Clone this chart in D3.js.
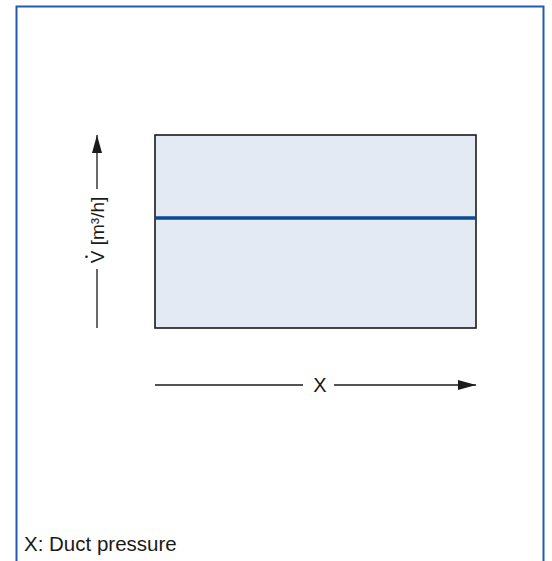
<!DOCTYPE html>
<html>
<head>
<meta charset="utf-8">
<script src="https://cdn.jsdelivr.net/npm/d3@7"></script>
<style>
  body { margin: 0; background: #fff; }
  svg { display: block; font-family: "Liberation Sans", Arial, sans-serif; }
</style>
</head>
<body>
<div id="chart"></div>
<script>
"use strict";

// chart data
const xDomain = [0, 1];          // duct pressure (relative)
const yDomain = [0, 1];          // air flow (relative)
const flowX = [0, 1];
const flowY = [0.57, 0.57];      // constant volume flow
const xLabel = "X";
const yLabel = "V [m³/h]";
const footnote = "X: Duct pressure";

const width = 552, height = 561;
const margin = { top: 135, right: 76, bottom: 233, left: 155 };

const svg = d3.select("#chart")
    .append("svg")
    .attr("width", width)
    .attr("height", height);

// outer frame (no bottom edge)
svg.append("path")
    .attr("d", `M16.5,${height} V6.5 H543.5 V${height}`)
    .attr("fill", "none")
    .attr("stroke", "#1f5bb0")
    .attr("stroke-width", 2);

const x = d3.scaleLinear().domain(xDomain).range([margin.left, width - margin.right]);
const y = d3.scaleLinear().domain(yDomain).range([height - margin.bottom, margin.top]);

const defs = svg.append("defs");
defs.append("marker")
    .attr("id", "arrow")
    .attr("viewBox", "0 0 18 10")
    .attr("refX", 18).attr("refY", 5)
    .attr("markerWidth", 18).attr("markerHeight", 10)
    .attr("markerUnits", "userSpaceOnUse")
    .attr("orient", "auto")
    .append("path")
    .attr("d", "M0,0 L18,5 L0,10 Z")
    .attr("fill", "#1a1a1a");

// plot area
svg.append("rect")
    .attr("x", x(xDomain[0]))
    .attr("y", y(yDomain[1]))
    .attr("width", x(xDomain[1]) - x(xDomain[0]))
    .attr("height", y(yDomain[0]) - y(yDomain[1]))
    .attr("fill", "#e3eaf3")
    .attr("stroke", "#1a1a1a")
    .attr("stroke-width", 1.6);

// flow line
const line = d3.line().x(d => x(d[0])).y(d => y(d[1]));
svg.append("path")
    .datum(d3.zip(flowX, flowY))
    .attr("d", line)
    .attr("fill", "none")
    .attr("stroke", "#0a4a94")
    .attr("stroke-width", 3.5);

// x axis arrow with label
const xa = height - margin.bottom + 57;
const xMid = 320;
svg.append("line")
    .attr("x1", x(0)).attr("x2", xMid - 17)
    .attr("y1", xa).attr("y2", xa)
    .attr("stroke", "#1a1a1a").attr("stroke-width", 1.3);
svg.append("line")
    .attr("x1", xMid + 14).attr("x2", x(1))
    .attr("y1", xa).attr("y2", xa)
    .attr("stroke", "#1a1a1a").attr("stroke-width", 1.3)
    .attr("marker-end", "url(#arrow)");
svg.append("text")
    .attr("x", xMid).attr("y", xa + 7)
    .attr("text-anchor", "middle")
    .attr("font-size", 20)
    .attr("fill", "#1a1a1a")
    .text(xLabel);

// y axis arrow with label
const ya = 97;
const yMid = 230;
svg.append("line")
    .attr("x1", ya).attr("x2", ya)
    .attr("y1", y(0)).attr("y2", yMid + 39)
    .attr("stroke", "#1a1a1a").attr("stroke-width", 1.3);
svg.append("line")
    .attr("x1", ya).attr("x2", ya)
    .attr("y1", yMid - 41).attr("y2", y(1))
    .attr("stroke", "#1a1a1a").attr("stroke-width", 1.3)
    .attr("marker-end", "url(#arrow)");
const yText = svg.append("g")
    .attr("transform", `translate(${ya + 7},${yMid}) rotate(-90)`);
yText.append("text")
    .attr("text-anchor", "middle")
    .attr("font-size", 19)
    .attr("fill", "#1a1a1a")
    .text(yLabel);
// dot over the V (flow rate symbol)
const vLeft = -yText.select("text").node().getComputedTextLength() / 2;
yText.append("circle")
    .attr("cx", vLeft + 6.5)
    .attr("cy", -17.5)
    .attr("r", 1.3)
    .attr("fill", "#1a1a1a");

// footnote
svg.append("text")
    .attr("x", 24).attr("y", 551)
    .attr("font-size", 20.5)
    .attr("fill", "#1a1a1a")
    .text(footnote);
</script>
</body>
</html>
